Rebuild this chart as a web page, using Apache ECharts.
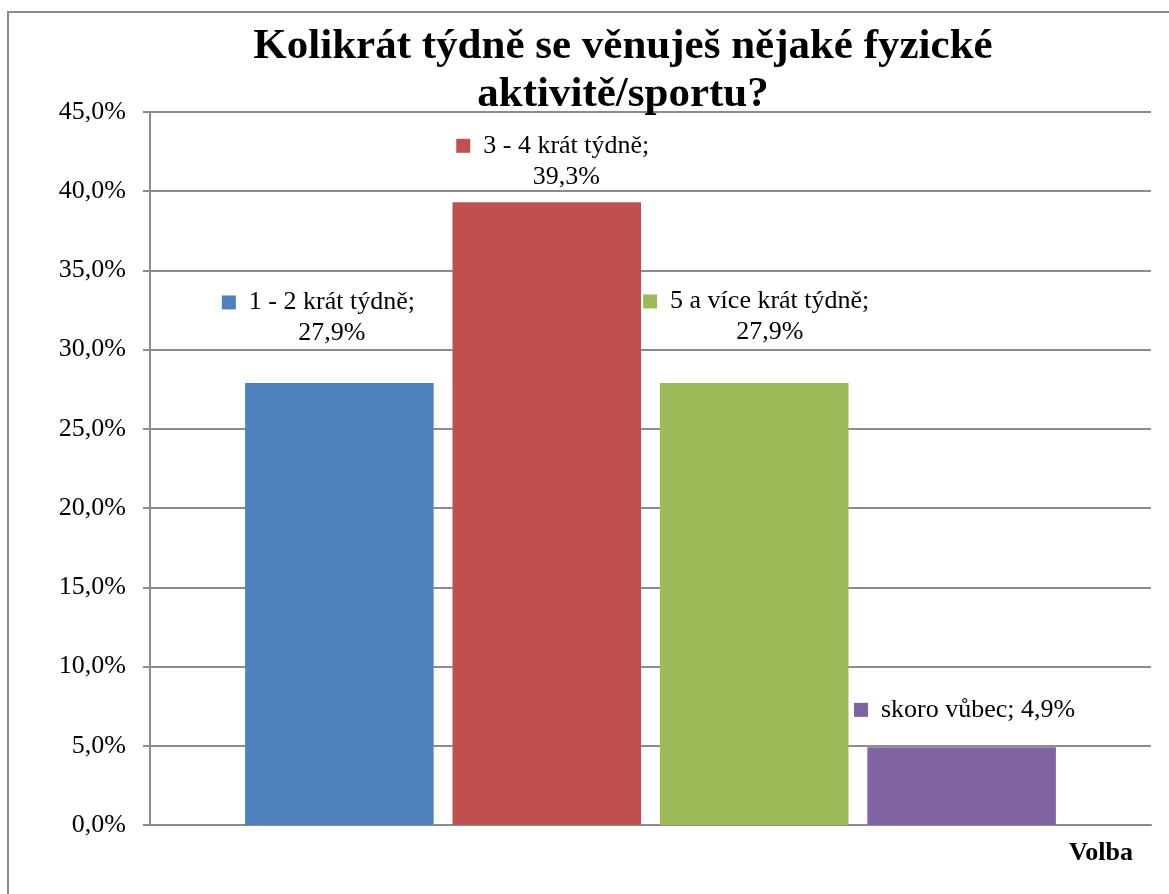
<!DOCTYPE html>
<html>
<head>
<meta charset="utf-8">
<script src="https://cdn.jsdelivr.net/npm/echarts@6/dist/echarts.min.js"></script>
<style>
  html, body { margin: 0; padding: 0; background: #fff; }
  #chart { width: 1169px; height: 894px; }
</style>
</head>
<body>
<div id="chart"></div>
<script>
const categories = ['']
const seriesNames = ['1 - 2 krát týdně', '3 - 4 krát týdně', '5 a více krát týdně', 'skoro vůbec']
const seriesValues = [27.9, 39.3, 27.9, 4.9]
const yMin = 0
const yMax = 45
const yStep = 5

const colors = ['#4F81BD', '#C0504D', '#9BBB59', '#8064A2']
// label tweaks (Excel labels were nudged by hand)
const labelShift = [[-21, 34], [6, 10], [2, 35], [3, 22]]
const oneLine = [false, false, false, true]

const FONT = '"Liberation Serif", "Times New Roman", serif'
const pct = v => v.toFixed(1).replace('.', ',') + '%'

const chart = echarts.init(document.getElementById('chart'))

const series = seriesNames.map((name, i) => ({
  name: name,
  type: 'bar',
  data: [seriesValues[i]],
  barGap: '10%',
  barCategoryGap: '19%',
  itemStyle: { color: colors[i] },
  label: {
    show: true,
    position: 'top',
    distance: labelShift[i][1],
    offset: [labelShift[i][0], 0],
    align: 'center',
    formatter: (p) => {
      if (oneLine[i]) return '{sq|}{t|' + name + '; ' + pct(p.value) + '}'
      return '{sq|}{t|' + name + ';}\n{pad|}{t|' + pct(p.value) + '}'
    },
    rich: {
      sq: { width: 14, height: 14, backgroundColor: colors[i] },
      pad: { width: 14, height: 14 },
      t: { fontFamily: FONT, fontSize: 26, color: '#000', lineHeight: 31, padding: [0, 0, 0, 13] }
    }
  }
}))

const option = {
  animation: false,
  backgroundColor: '#fff',
  title: {
    text: 'Kolikrát týdně se věnuješ nějaké fyzické\naktivitě/sportu?',
    left: 618,
    top: 18,
    textAlign: 'center',
    textStyle: {
      fontFamily: FONT,
      fontWeight: 'bold',
      fontSize: 43,
      lineHeight: 48,
      color: '#000'
    }
  },
  graphic: [{
    type: 'rect',
    shape: { x: 8, y: 12, width: 1300, height: 1000 },
    style: { fill: 'none', stroke: '#8c8c8c', lineWidth: 2 },
    silent: true
  }],
  grid: { left: 150, right: 18, top: 112, bottom: 69 },
  xAxis: {
    type: 'category',
    data: categories,
    name: 'Volba',
    nameLocation: 'end',
    nameGap: -18,
    nameTextStyle: {
      fontFamily: FONT, fontWeight: 'bold', fontSize: 26, color: '#000',
      align: 'right', verticalAlign: 'top', padding: [15, 0, 0, 0]
    },
    axisLine: { lineStyle: { color: '#8c8c8c', width: 2 } },
    axisTick: { show: false },
    axisLabel: { show: false }
  },
  yAxis: {
    type: 'value',
    min: yMin,
    max: yMax,
    interval: yStep,
    axisLine: { show: true, lineStyle: { color: '#8c8c8c', width: 2 } },
    axisTick: { show: true, length: 7, lineStyle: { color: '#8c8c8c', width: 2 } },
    splitLine: { lineStyle: { color: '#8c8c8c', width: 2 } },
    axisLabel: {
      margin: 24,
      fontFamily: FONT,
      fontSize: 26,
      color: '#000',
      formatter: v => pct(v)
    }
  },
  series: series
}

chart.setOption(option)
</script>
</body>
</html>
